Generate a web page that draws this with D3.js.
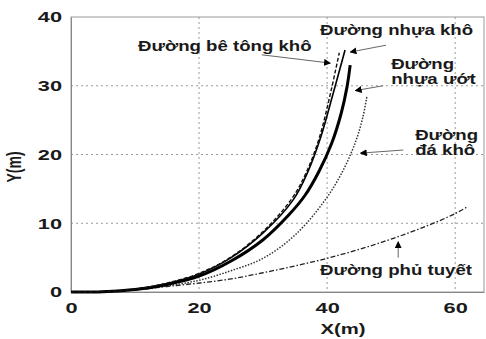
<!DOCTYPE html>
<html><head><meta charset="utf-8">
<script src="https://cdn.jsdelivr.net/npm/d3@7"></script>
<style>
html,body{margin:0;padding:0;background:#fff;}
svg{display:block;}
text{font-family:"Liberation Sans",Arial,sans-serif;fill:#1a1a1a;}
</style></head>
<body>
<svg id="chart" width="486" height="339"></svg>
<script>
// ---- data ----
const xTicks = [0, 20, 40, 60];
const yTicks = [0, 10, 20, 30, 40];

const betongX  = [0, 5, 10, 15, 20, 25, 30, 34.5, 36.8, 38.8, 40.4, 41.9];
const betongY  = [0, 0.05, 0.4, 1.3, 2.7, 5.1, 8.8, 13.6, 17.5, 22.5, 28.4, 34.8];

const nhuaKhoX = [0, 5, 10, 15, 20, 25, 30, 34.7, 37, 39, 40.8, 42.8];
const nhuaKhoY = [0, 0.05, 0.4, 1.25, 2.6, 5.0, 8.6, 13.4, 17.5, 22.5, 28.4, 35.2];

const nhuaUotX = [0, 5, 10, 15, 20, 25, 30, 34, 36.5, 38.7, 40.7, 42.2, 43.1, 43.6];
const nhuaUotY = [0, 0.05, 0.35, 1.1, 2.3, 4.5, 7.6, 11.2, 14.0, 17.5, 21.6, 26.0, 29.8, 33];

const daKhoX   = [0, 5, 10, 15, 20, 25, 30, 35, 39.7, 42.5, 44.5, 45.6, 46.2];
const daKhoY   = [0, 0.05, 0.3, 0.9, 1.7, 3.1, 4.9, 8.3, 13.4, 17.7, 22, 25.5, 28.4];

const tuyetX   = [0, 5, 10, 15, 20, 25, 30, 35, 40, 45, 50, 55, 60, 61.9];
const tuyetY   = [0, 0.05, 0.3, 0.8, 1.3, 1.9, 2.8, 3.8, 4.9, 6.2, 7.7, 9.4, 11.4, 12.4];

const xTitle = "X(m)";
const yTitle = "Y(m)";

// ---- layout ----
const svg = d3.select("#chart");
const L = 71, R = 484, T = 17, B = 292;
const STRETCH = 1.45;
const FONT = '"Liberation Sans",Arial,sans-serif';

const x = d3.scaleLinear().domain([0, 64.5]).range([L, R]);
const y = d3.scaleLinear().domain([0, 40]).range([B, T]);

// grid
const grid = svg.append("g");
grid.selectAll("line.gx").data(xTicks.filter(d => d > 0)).join("line")
  .attr("x1", d => x(d)).attr("x2", d => x(d)).attr("y1", T).attr("y2", B)
  .attr("stroke", "#999").attr("stroke-width", 1).attr("stroke-dasharray", "2,3");
grid.selectAll("line.gy").data(yTicks.filter(d => d > 0 && d < 40)).join("line")
  .attr("x1", L).attr("x2", R).attr("y1", d => y(d)).attr("y2", d => y(d))
  .attr("stroke", "#999").attr("stroke-width", 1).attr("stroke-dasharray", "2,3");

// box
svg.append("rect").attr("x", L).attr("y", T).attr("width", R - L).attr("height", B - T)
  .attr("fill", "none").attr("stroke", "#999").attr("stroke-width", 1);

// axes
const xAxis = svg.append("g").attr("transform", `translate(0,${B})`)
  .call(d3.axisBottom(x).tickValues(xTicks).tickSize(0).tickPadding(10).tickFormat(d3.format("d")));
const yAxis = svg.append("g").attr("transform", `translate(${L},0)`)
  .call(d3.axisLeft(y).tickValues(yTicks).tickSize(0).tickPadding(9).tickFormat(d3.format("d")));
[xAxis, yAxis].forEach(a => {
  a.select(".domain").attr("stroke", "#888");
  a.selectAll("text").attr("font-size", 15).attr("font-family", FONT)
    .attr("font-weight", "bold").attr("fill", "#1a1a1a");
});

// series
const series = [
  {xs: tuyetX,   ys: tuyetY,   w: 1.3, dash: "5,2,1.5,2", col: "#222"},
  {xs: daKhoX,   ys: daKhoY,   w: 1.5, dash: "1.5,1.5",   col: "#333"},
  {xs: nhuaUotX, ys: nhuaUotY, w: 3.0, dash: null,        col: "#000"},
  {xs: nhuaKhoX, ys: nhuaKhoY, w: 1.6, dash: null,        col: "#000"},
  {xs: betongX,  ys: betongY,  w: 1.4, dash: "4,2",       col: "#111"}
];
const line = d3.line().x(d => x(d[0])).y(d => y(d[1])).curve(d3.curveCatmullRom.alpha(0.5));
series.forEach(s => {
  svg.append("path").datum(s.xs.map((v, i) => [v, s.ys[i]]))
    .attr("d", line).attr("fill", "none")
    .attr("stroke", s.col).attr("stroke-width", s.w)
    .attr("stroke-dasharray", s.dash);
});

// arrow marker
svg.append("defs").append("marker").attr("id", "ah")
  .attr("viewBox", "0 0 10 10").attr("refX", 9).attr("refY", 5)
  .attr("markerWidth", 7).attr("markerHeight", 7).attr("markerUnits", "userSpaceOnUse")
  .attr("orient", "auto")
  .append("path").attr("d", "M0,0 L10,5 L0,10 z").attr("fill", "#000");

// annotations (data coordinates)
const notes = [
  {lines: ["Đường bê tông khô"], tx: 10.47, ty: 35.05, from: [29.8, 34.5], to: [40.5, 33.3]},
  {lines: ["Đường nhựa khô"],    tx: 38.9,  ty: 37.4,  from: [49.2, 35.9], to: [43.6, 34.9]},
  {lines: ["Đường", "nhựa ướt"], tx: 50.0,  ty: 32.4,  from: [48.75, 30.0], to: [44.4, 29.3]},
  {lines: ["Đường", "đá khô"],   tx: 53.75, ty: 22.1,  from: [51.9, 20.65], to: [45.2, 20.2]},
  {lines: ["Đường phủ tuyết"],   tx: 38.9,  ty: 2.47,  from: [51.1, 5.0],  to: [51.1, 7.3]}
];
notes.forEach(n => {
  svg.append("line")
    .attr("x1", x(n.from[0])).attr("y1", y(n.from[1]))
    .attr("x2", x(n.to[0])).attr("y2", y(n.to[1]))
    .attr("stroke", "#666").attr("stroke-width", 1)
    .attr("marker-end", "url(#ah)");
  n.lines.forEach((t, i) => {
    svg.append("text").attr("class", "note")
      .attr("x", x(n.tx)).attr("y", y(n.ty) + i * 15)
      .attr("font-size", 14).attr("font-weight", "bold").text(t);
  });
});

// axis titles
svg.append("text").attr("x", 343).attr("y", 334).attr("text-anchor", "middle")
  .attr("font-size", 14).attr("font-weight", "bold").text(xTitle);
svg.append("text").attr("class", "ytitle")
  .attr("transform", `translate(21,167) scale(${STRETCH},1) rotate(-90)`)
  .attr("text-anchor", "middle").attr("font-size", 14).attr("font-weight", "bold").text(yTitle);

// horizontal stretch of the reference's lettering
svg.selectAll("text").filter(function(){ return !this.classList.contains("ytitle"); })
  .each(function(){
    const w = this.getComputedTextLength();
    const k = this.classList.contains("note") ? 1.33 : STRETCH;
    d3.select(this).attr("textLength", w * k).attr("lengthAdjust", "spacingAndGlyphs");
  });
</script>
</body></html>
